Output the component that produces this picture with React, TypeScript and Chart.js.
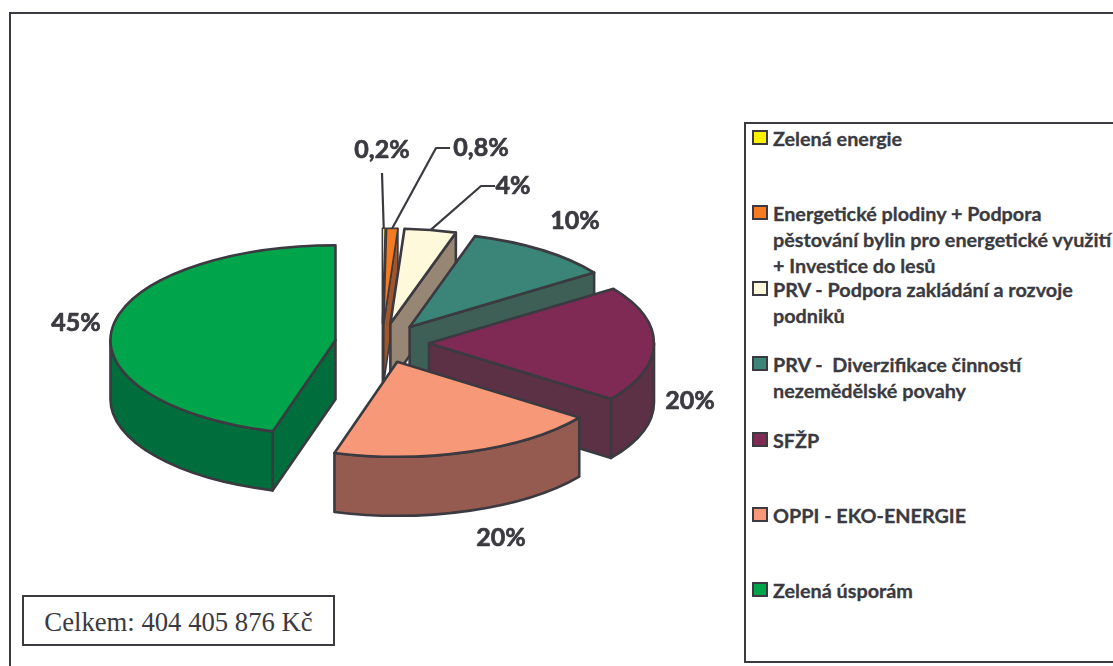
import React, { useEffect, useRef } from "react";
import { Chart, registerables } from "chart.js";

Chart.register(...registerables);

const categories = [
  "Zelená energie",
  "Energetické plodiny + Podpora pěstování bylin pro energetické využití + Investice do lesů",
  "PRV - Podpora zakládání a rozvoje podniků",
  "PRV -  Diverzifikace činností nezemědělské povahy",
  "SFŽP",
  "OPPI - EKO-ENERGIE",
  "Zelená úsporám",
];
const legendLines = [
  ["Zelená energie"],
  ["Energetické plodiny + Podpora", "pěstování bylin pro energetické využití", "+ Investice do lesů"],
  ["PRV - Podpora zakládání a rozvoje", "podniků"],
  ["PRV -  Diverzifikace činností", "nezemědělské povahy"],
  ["SFŽP"],
  ["OPPI - EKO-ENERGIE"],
  ["Zelená úsporám"],
];
const values = [0.2, 0.8, 3.7, 10.6, 19.7, 19.5, 45.5];
const valueLabels = ["0,2%", "0,8%", "4%", "10%", "20%", "20%", "45%"];
const totalLabel = "Celkem: 404 405 876 Kč";

const topColors = ["#FFF200", "#F47B20", "#FFF9DB", "#3A8478", "#7F2A55", "#F79879", "#00A44A"];
const wallColors = ["#99910A", "#A0562A", "#968673", "#3E5F55", "#5C3145", "#965B50", "#006D3C"];
const edgeWidths = [1.4, 1.6, 2.6, 2.6, 2.6, 2.6, 2.6];

const INK = "#3A3A40";
const SQUASH = 0.422;
const DEPTH = 59;
const EXPLODE = 47;

// Text centre of each value label, and the elbow of its leader line (if any).
const labelCentres: [number, number][] = [
  [382, 150], [481, 148], [513, 186], [575, 221], [690, 401], [501, 538], [76, 323],
];
const leaderElbows: ([number, number][] | null)[] = [
  [[382, 173]],
  [[450, 148], [436, 148]],
  [[495, 186], [481, 186]],
  null, null, null, null,
];

const pie3d = {
  id: "pie3d",
  beforeDatasetDraw(chart: any) {
    const ctx = chart.ctx as CanvasRenderingContext2D;
    const arcs = chart.getDatasetMeta(0).data as any[];
    ctx.save();
    ctx.lineJoin = "round";
    ctx.strokeStyle = INK;
    arcs.forEach((el, i) => {
      ctx.lineWidth = edgeWidths[i];
      const { x, y, startAngle: a, endAngle: b, outerRadius: r } = el;
      const mid = (a + b) / 2;
      const cx = x + Math.cos(mid) * EXPLODE;
      const cy = y + Math.sin(mid) * EXPLODE * SQUASH;
      const edge = (t: number): [number, number] => [cx + Math.cos(t) * r, cy + Math.sin(t) * r * SQUASH];

      // radial faces turned towards the viewer
      const face = (t: number) => {
        const [ex, ey] = edge(t);
        ctx.beginPath();
        ctx.moveTo(cx, cy);
        ctx.lineTo(ex, ey);
        ctx.lineTo(ex, ey + DEPTH);
        ctx.lineTo(cx, cy + DEPTH);
        ctx.closePath();
        ctx.fillStyle = wallColors[i];
        ctx.fill();
        ctx.stroke();
      };
      if (Math.cos(a) < 0) face(a);
      if (Math.cos(b) > 0) face(b);

      // curved outer wall, front half only
      const w0 = Math.max(a, 0);
      const w1 = Math.min(b, Math.PI);
      if (w1 > w0) {
        ctx.beginPath();
        ctx.ellipse(cx, cy, r, r * SQUASH, 0, w0, w1);
        ctx.ellipse(cx, cy + DEPTH, r, r * SQUASH, 0, w1, w0, true);
        ctx.closePath();
        ctx.fillStyle = wallColors[i];
        ctx.fill();
        ctx.stroke();
      }

      // top face drawn by the library's own arc element
      ctx.save();
      ctx.translate(cx, cy);
      ctx.scale(1, SQUASH);
      ctx.translate(-x, -y);
      el.draw(ctx);
      ctx.restore();

      ctx.beginPath();
      ctx.moveTo(cx, cy);
      ctx.ellipse(cx, cy, r, r * SQUASH, 0, a, b);
      ctx.closePath();
      ctx.stroke();
    });

    // leader lines and value labels
    ctx.lineWidth = 2.2;
    arcs.forEach((el, i) => {
      const elbow = leaderElbows[i];
      if (!elbow) return;
      const mid = (el.startAngle + el.endAngle) / 2;
      const cx = el.x + Math.cos(mid) * EXPLODE;
      const cy = el.y + Math.sin(mid) * EXPLODE * SQUASH;
      ctx.beginPath();
      elbow.forEach(([px, py], k) => (k ? ctx.lineTo(px, py) : ctx.moveTo(px, py)));
      ctx.lineTo(cx + Math.cos(mid) * el.outerRadius, cy + Math.sin(mid) * el.outerRadius * SQUASH);
      ctx.stroke();
    });
    ctx.fillStyle = INK;
    ctx.font = "bold 25px Lato";
    ctx.textAlign = "center";
    ctx.textBaseline = "middle";
    ctx.lineWidth = 0.7;
    valueLabels.forEach((t, i) => {
      ctx.fillText(t, labelCentres[i][0], labelCentres[i][1]);
      ctx.strokeText(t, labelCentres[i][0], labelCentres[i][1]);
    });
    ctx.restore();
    return false;
  },
};

export default function App() {
  const ref = useRef<HTMLCanvasElement>(null);
  useEffect(() => {
    const chart = new Chart(ref.current!, {
      type: "pie",
      data: {
        labels: categories,
        datasets: [{ data: values, backgroundColor: topColors, borderWidth: 0 }],
      },
      options: {
        animation: false,
        responsive: false,
        radius: 225,
        layout: { padding: { left: 0, right: 349, top: 20, bottom: 0 } },
        plugins: { legend: { display: false }, tooltip: { enabled: false } },
      } as any,
      plugins: [pie3d as any],
    });
    return () => chart.destroy();
  }, []);

  return (
    <div style={{ position: "fixed", left: 0, top: 0, width: 1113, height: 666, overflow: "hidden", background: "#fff" }}>
      <div style={{ position: "absolute", left: 9, top: 12, width: 1200, height: 800, border: `2px solid ${INK}` }} />
      <canvas ref={ref} width={1113} height={666} style={{ position: "absolute", left: 0, top: 0 }} />
      <div
        style={{
          position: "absolute", left: 744, top: 122, width: 500, height: 537,
          border: `2px solid ${INK}`, background: "#fff",
        }}
      />
      {legendLines.map((lines, i) => (
        <div key={i}>
          <div
            style={{
              position: "absolute", left: 752, top: 130 + i * 75.4, width: 12, height: 11,
              border: `2px solid ${INK}`, background: topColors[i],
            }}
          />
          <div
            style={{
              position: "absolute", left: 773, top: 125 + i * 75.4, width: 400,
              font: "bold 19.8px/26px Lato", color: INK, whiteSpace: "pre",
              WebkitTextStroke: "0.3px " + INK,
            }}
          >
            {lines.join("\n")}
          </div>
        </div>
      ))}
      <div
        style={{
          position: "absolute", left: 22, top: 595, width: 309, height: 47,
          border: `2px solid ${INK}`, background: "#fff", color: INK,
          font: "26.7px/50px 'Liberation Serif'", textAlign: "center",
        }}
      >
        {totalLabel}
      </div>
    </div>
  );
}
